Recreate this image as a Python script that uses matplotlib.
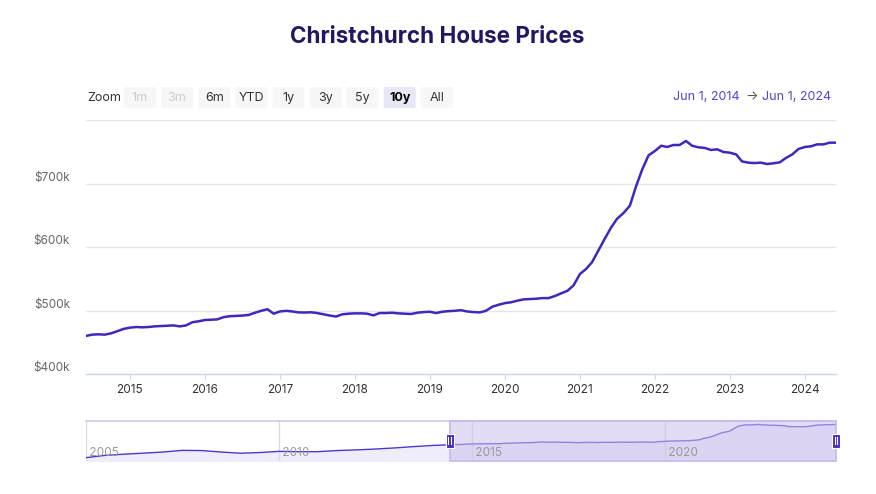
import matplotlib
matplotlib.use('Agg')
import matplotlib.pyplot as plt
import matplotlib.dates as mdates
import matplotlib.transforms as mtransforms
from matplotlib.patches import Rectangle, FancyBboxPatch
import pandas as pd

plt.rcParams['font.family'] = ['Inter', 'DejaVu Sans']

W, H = 876, 494

title = "Christchurch House Prices"

# Monthly prices (thousand NZD), Jun 2014 .. Jun 2024
price_dates = pd.date_range('2014-06-01', '2024-06-01', freq='MS')
prices_k = [
    460, 462, 462.5, 462, 464, 467.5, 471, 473, 474, 473.5, 474, 475,
    475.5, 476, 476.5, 475, 476.5, 481.5, 483, 485, 485.5, 486, 489.5, 491,
    491.5, 492, 493, 496.5, 499.5, 502, 495, 498.5, 499.5, 498.5, 497, 496.8,
    497.2, 496, 494, 492, 490.5, 494, 495, 495.5, 495.5, 495, 492.3, 496,
    496, 496.5, 495.5, 495, 494.5, 496.5, 497.5, 498, 496, 498, 499, 499.5,
    500.5, 498.5, 497.5, 497, 499.5, 506, 509, 511.6, 513, 515.4, 517.5, 518,
    518.5, 519.5, 519.5, 522.8, 527, 531, 539.7, 557.5, 565.8, 576.2, 594.7, 612.6,
    630.4, 644.6, 653.5, 665, 695.5, 722.8, 744.3, 751.2, 759.5, 757.5, 760.6, 760.6,
    767, 759.5, 757, 756, 752.8, 753.8, 749.6, 748.5, 745.8, 734.8, 732.8, 732.2,
    732.8, 730.7, 731.8, 733.3, 740.2, 745.8, 754.3, 757.5, 758.6, 761.6, 761.6, 764.3,
    764.3,
]

# Earlier history shown only in the navigator (thousand NZD)
history_dates = pd.to_datetime([
    '2005-01-01', '2005-07-01', '2006-01-01', '2006-07-01', '2007-01-01',
    '2007-07-01', '2008-01-01', '2008-07-01', '2009-01-01', '2009-07-01',
    '2010-01-01', '2010-07-01', '2011-01-01', '2011-07-01', '2012-01-01',
    '2012-07-01', '2013-01-01', '2013-07-01', '2014-01-01'])
history_k = [265, 300, 318, 333, 350, 375, 372, 350, 332, 342,
             360, 355, 355, 372, 382, 395, 412, 432, 450]

y_ticks = [400, 500, 600, 700, 800]
y_labels = ['$400k', '$500k', '$600k', '$700k', '']
x_years = list(range(2015, 2025))
nav_years = [2005, 2010, 2015, 2020]

zoom_buttons = ['1m', '3m', '6m', 'YTD', '1y', '3y', '5y', '10y', 'All']
disabled_buttons = ['1m', '3m']
selected_button = '10y'
range_start = pd.Timestamp('2014-06-01')
range_end = pd.Timestamp('2024-06-01')
nav_start = pd.Timestamp('2005-01-01')
range_texts = ['Jun 1, 2014', 'Jun 1, 2024']

LINE = '#4426bd'
GRID = '#e6e6e6'
AXIS = '#ccd6eb'

fig = plt.figure(figsize=(W / 100, H / 100), dpi=100)

def fpos(x0, y0, x1, y1):
    return [x0 / W, 1 - y1 / H, (x1 - x0) / W, (y1 - y0) / H]

# ---------- main chart ----------
ax = fig.add_axes(fpos(86, 120, 836, 374))
ax.plot(price_dates, prices_k, color=LINE, lw=1.8, solid_joinstyle='round', zorder=3)
ax.set_xlim(range_start, range_end)
ax.set_ylim(y_ticks[0], y_ticks[-1])
for v in y_ticks[1:]:
    ax.axhline(v, color=GRID, lw=1, zorder=1)
for s in ['top', 'left', 'right']:
    ax.spines[s].set_visible(False)
ax.spines['bottom'].set_color(AXIS)
ax.spines['bottom'].set_linewidth(1)
ax.set_yticks([])
ax.set_xticks([pd.Timestamp(f'{y}-01-01') for y in x_years])
ax.set_xticklabels([str(y) for y in x_years])
ax.tick_params(axis='x', length=3.6, width=0.8, color=AXIS, pad=3.5,
               labelsize=8.5, labelcolor='#333333')
ylab_tr = mtransforms.offset_copy(ax.get_yaxis_transform(), fig=fig, x=-16, y=6, units='dots')
for v, lab in zip(y_ticks, y_labels):
    if lab:
        ax.text(0, v, lab, transform=ylab_tr, ha='right', va='center',
                fontsize=8.5, color='#666666')

# ---------- navigator ----------
nav = fig.add_axes(fpos(86, 421, 836, 461))
all_dates = list(history_dates) + list(price_dates)
all_vals = list(history_k) + list(prices_k)
nav.fill_between(all_dates, all_vals, 0, color='#efecfb', lw=0, zorder=1)
nav.plot(all_dates, all_vals, color='#5235cc', lw=1.0, zorder=3)
vmin, vmax = min(all_vals), max(all_vals)
pad = 0.1 * (vmax - vmin)
nav.set_ylim(vmin - pad, vmax + pad)
nav.set_xlim(nav_start, range_end)
nav.axvspan(range_start, range_end, color='#cbc2ee', alpha=0.55, lw=0, zorder=4)
for yv in nav_years:
    d = pd.Timestamp(f'{yv}-01-01')
    nav.axvline(d, color='#dcdcdc', lw=1, zorder=2)
    nav.text(d, 0.2, f' {yv}', transform=nav.get_xaxis_transform(), ha='left',
             va='center', fontsize=8.5, color='#999999', zorder=5)
nav.set_xticks([]); nav.set_yticks([])
for s in ['left', 'right', 'bottom']:
    nav.spines[s].set_visible(False)
nav.spines['top'].set_color('#cfc7f1')
nav.spines['top'].set_linewidth(1.2)
nav.add_patch(Rectangle((mdates.date2num(range_start), 0),
                        mdates.date2num(range_end) - mdates.date2num(range_start), 1,
                        transform=nav.get_xaxis_transform(), fill=False,
                        edgecolor='#c4baee', lw=1.2, zorder=6, clip_on=False))

# ---------- overlay for UI elements (pixel coordinates) ----------
ui = fig.add_axes([0, 0, 1, 1])
ui.set_xlim(0, W); ui.set_ylim(H, 0)
ui.axis('off'); ui.patch.set_visible(False)

ui.text(437, 43, title, ha='center', va='baseline', fontsize=16.2,
        fontweight='bold', color='#221760')

ui.text(87, 98, 'Zoom', ha='left', va='center', fontsize=9, color='#333333')
for i, b in enumerate(zoom_buttons):
    x0 = 124 + i * 37.1
    sel = (b == selected_button)
    bg = '#e6e8f6' if sel else '#f7f7f7'
    ui.add_patch(FancyBboxPatch((x0, 87), 32, 21, boxstyle='round,pad=0,rounding_size=2',
                                fc=bg, ec='none'))
    col = '#cccccc' if b in disabled_buttons else ('#000000' if sel else '#333333')
    ui.text(x0 + 16, 98, b, ha='center', va='center', fontsize=9, color=col,
            fontweight='bold' if sel else 'normal')

ui.text(673, 97, range_texts[0], ha='left', va='center', fontsize=9, color='#5a3fd0')
ui.text(751.5, 97, '\u2192', ha='center', va='center', fontsize=9.5, color='#555555')
ui.text(831, 97, range_texts[1], ha='right', va='center', fontsize=9, color='#5a3fd0')

# navigator handles, placed from the navigator's own date scale
for d in [range_start, range_end]:
    xp = nav.transData.transform((mdates.date2num(d), 0))[0]
    ui.add_patch(Rectangle((xp - 4, 433.5), 8, 14, fc='#4a2dc2', ec='white', lw=0.8, zorder=10))
    for dx in (-1.2, 1.2):
        ui.plot([xp + dx, xp + dx], [437, 444], color='white', lw=0.8, zorder=11)

fig.savefig('out.png', dpi=100)
